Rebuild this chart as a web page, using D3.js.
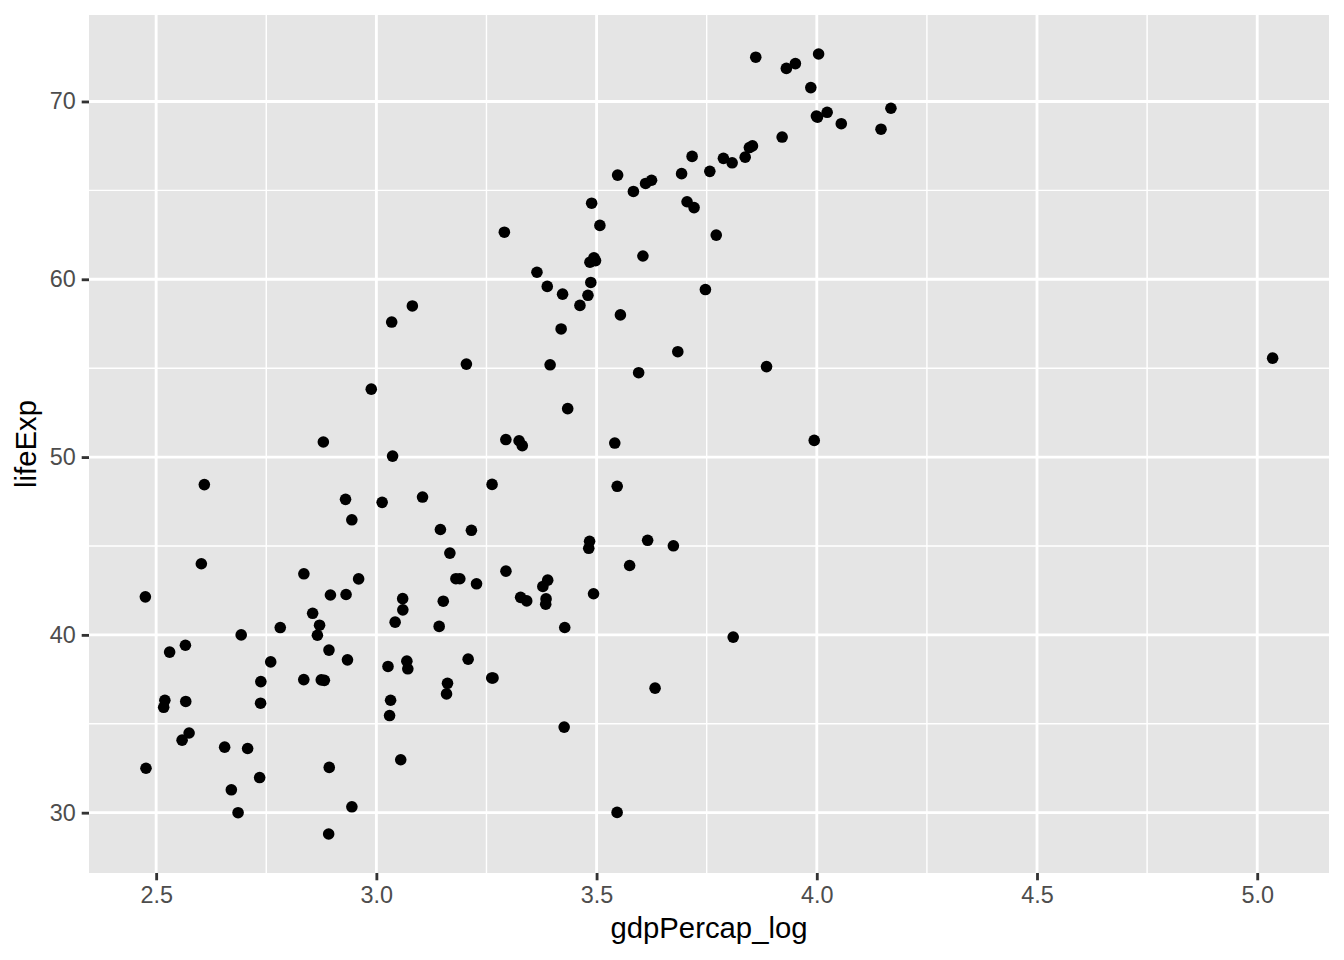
<!DOCTYPE html>
<html>
<head>
<meta charset="utf-8">
<script src="https://cdn.jsdelivr.net/npm/d3@7"></script>
<style>
  html, body { margin: 0; padding: 0; background: #fff; }
  svg { display: block; }
</style>
</head>
<body>
<svg id="chart" width="1344" height="960"></svg>
<script>
const countries = ["Afghanistan","Albania","Algeria","Angola","Argentina","Australia","Austria","Bahrain","Bangladesh","Belgium","Benin","Bolivia","Bosnia and Herzegovina","Botswana","Brazil","Bulgaria","Burkina Faso","Burundi","Cambodia","Cameroon","Canada","Central African Republic","Chad","Chile","China","Colombia","Comoros","Congo, Dem. Rep.","Congo, Rep.","Costa Rica","Cote d'Ivoire","Croatia","Cuba","Czech Republic","Denmark","Djibouti","Dominican Republic","Ecuador","Egypt","El Salvador","Equatorial Guinea","Eritrea","Ethiopia","Finland","France","Gabon","Gambia","Germany","Ghana","Greece","Guatemala","Guinea","Guinea-Bissau","Haiti","Honduras","Hong Kong, China","Hungary","Iceland","India","Indonesia","Iran","Iraq","Ireland","Israel","Italy","Jamaica","Japan","Jordan","Kenya","Korea, Dem. Rep.","Korea, Rep.","Kuwait","Lebanon","Lesotho","Liberia","Libya","Madagascar","Malawi","Malaysia","Mali","Mauritania","Mauritius","Mexico","Mongolia","Montenegro","Morocco","Mozambique","Myanmar","Namibia","Nepal","Netherlands","New Zealand","Nicaragua","Niger","Nigeria","Norway","Oman","Pakistan","Panama","Paraguay","Peru","Philippines","Poland","Portugal","Puerto Rico","Reunion","Romania","Rwanda","Sao Tome and Principe","Saudi Arabia","Senegal","Serbia","Sierra Leone","Singapore","Slovak Republic","Slovenia","Somalia","South Africa","Spain","Sri Lanka","Sudan","Swaziland","Sweden","Switzerland","Syria","Taiwan","Tanzania","Thailand","Togo","Trinidad and Tobago","Tunisia","Turkey","Uganda","United Kingdom","United States","Uruguay","Venezuela","Vietnam","West Bank and Gaza","Yemen, Rep.","Zambia","Zimbabwe"];

const gdpPercapLog = [2.8917,3.2044,3.3890,3.5466,3.7717,4.0017,3.7880,3.9942,2.8352,3.9213,3.0264,3.4277,2.9884,2.9300,3.3240,3.3880,2.7350,2.5306,2.5664,3.0692,4.0556,3.0300,3.0714,3.5955,2.6026,3.3313,3.0426,2.8924,3.3275,3.4195,3.1426,3.4940,3.7471,3.8374,3.9864,3.4264,3.1454,3.5468,3.1519,3.4841,2.5748,2.5171,2.5589,3.8078,3.8469,3.6328,2.6860,3.8539,2.9597,3.5478,3.3853,2.7077,2.4769,3.2649,3.3414,3.4849,3.7213,3.8614,2.7377,2.8749,3.4822,3.6159,3.7169,3.6113,3.6930,3.4622,3.5075,3.1895,2.9312,3.0368,3.0131,5.0350,3.6844,2.4755,2.7601,3.3780,3.1593,2.5672,3.2627,2.6555,2.8710,3.2940,3.5413,2.8957,3.4228,3.2274,2.6707,2.5198,3.3845,2.7371,3.9514,4.0235,3.4931,2.8819,3.0323,4.0041,3.2620,2.8354,3.3945,3.2906,3.5750,3.1048,3.6052,3.4869,3.4888,3.4344,3.4976,2.6931,2.9443,3.8102,3.1615,3.5541,2.9444,3.3646,3.7054,3.6248,3.0553,3.6744,3.5836,3.0348,3.2084,3.0601,3.9309,4.1683,3.2158,3.0817,2.8553,2.8796,2.9344,3.4804,3.1669,3.2942,2.8661,3.9991,4.1458,3.7571,3.8859,2.7818,3.1806,2.8930,3.0597,2.6094];

const lifeExp = [28.801,55.23,43.077,30.015,62.485,69.12,66.8,50.939,37.484,68.0,38.223,40.414,53.82,47.622,50.917,59.6,31.975,39.031,39.417,38.523,68.75,35.463,38.092,54.745,44.0,50.643,40.715,39.143,42.111,57.206,40.477,61.21,59.421,66.87,70.78,34.812,45.928,48.357,41.893,45.262,34.482,35.928,34.078,66.55,67.41,37.003,30.0,67.5,43.149,65.86,42.023,33.609,32.5,37.579,41.912,60.96,64.03,72.49,37.373,37.468,44.869,45.32,66.91,65.39,65.94,58.53,63.03,43.158,42.27,50.056,47.453,55.565,55.928,42.138,38.48,42.723,36.681,36.256,48.463,33.685,40.543,50.986,50.789,42.244,59.164,42.873,31.286,36.319,41.725,36.157,72.13,69.39,42.314,37.444,36.324,72.67,37.578,43.436,55.191,62.649,43.902,47.752,61.31,59.82,64.28,52.724,61.05,40.0,46.471,39.875,37.278,57.996,30.331,60.396,64.36,65.57,32.978,45.009,64.94,57.593,38.635,41.407,71.86,69.62,45.883,58.5,41.215,50.848,38.596,59.1,44.6,43.585,39.978,69.18,68.44,66.071,55.088,40.412,43.16,32.548,42.038,48.451];

const xBreaks = [2.5, 3.0, 3.5, 4.0, 4.5, 5.0];
const xMinor = [2.75, 3.25, 3.75, 4.25, 4.75];
const yBreaks = [30, 40, 50, 60, 70];
const yMinor = [35, 45, 55, 65];
const xTitle = "gdpPercap_log";
const yTitle = "lifeExp";

const data = countries.map((c, i) => ({ country: c, x: gdpPercapLog[i], y: lifeExp[i] }));

const svg = d3.select("#chart");
const panel = { left: 89, right: 1329, top: 15, bottom: 873 };

function expand(ext) { const r = ext[1] - ext[0]; return [ext[0] - 0.05 * r, ext[1] + 0.05 * r]; }
const x = d3.scaleLinear().domain(expand(d3.extent(gdpPercapLog))).range([panel.left, panel.right]);
const y = d3.scaleLinear().domain(expand(d3.extent(lifeExp))).range([panel.bottom, panel.top]);

svg.append("rect").attr("x", panel.left).attr("y", panel.top)
  .attr("width", panel.right - panel.left).attr("height", panel.bottom - panel.top)
  .attr("fill", "#E5E5E5");

const grid = svg.append("g");
grid.selectAll(".xminor").data(xMinor).enter().append("line")
  .attr("x1", d => x(d)).attr("x2", d => x(d)).attr("y1", panel.top).attr("y2", panel.bottom)
  .attr("stroke", "#fff").attr("stroke-width", 1.42);
grid.selectAll(".yminor").data(yMinor).enter().append("line")
  .attr("y1", d => y(d)).attr("y2", d => y(d)).attr("x1", panel.left).attr("x2", panel.right)
  .attr("stroke", "#fff").attr("stroke-width", 1.42);
grid.selectAll(".xmajor").data(xBreaks).enter().append("line")
  .attr("x1", d => x(d)).attr("x2", d => x(d)).attr("y1", panel.top).attr("y2", panel.bottom)
  .attr("stroke", "#fff").attr("stroke-width", 2.84);
grid.selectAll(".ymajor").data(yBreaks).enter().append("line")
  .attr("y1", d => y(d)).attr("y2", d => y(d)).attr("x1", panel.left).attr("x2", panel.right)
  .attr("stroke", "#fff").attr("stroke-width", 2.84);

// points
svg.append("g").selectAll("circle").data(data).enter().append("circle")
  .attr("cx", d => x(d.x)).attr("cy", d => y(d.y)).attr("r", 5.8).attr("fill", "#000");

// axes
const xAxis = d3.axisBottom(x).tickValues(xBreaks).tickFormat(d3.format(".1f")).tickSizeInner(7.3).tickSizeOuter(0).tickPadding(6);
const gx = svg.append("g").attr("transform", `translate(0,${panel.bottom})`).call(xAxis);
gx.select(".domain").remove();
gx.selectAll(".tick line").attr("stroke", "#333333").attr("stroke-width", 2.84);
gx.selectAll(".tick text").attr("fill", "#4D4D4D").attr("font-size", "23.4px")
  .attr("font-family", "'Liberation Sans', Arial, Helvetica, sans-serif");

const yAxis = d3.axisLeft(y).tickValues(yBreaks).tickFormat(d3.format("d")).tickSizeInner(7.3).tickSizeOuter(0).tickPadding(6);
const gy = svg.append("g").attr("transform", `translate(${panel.left},0)`).call(yAxis);
gy.select(".domain").remove();
gy.selectAll(".tick line").attr("stroke", "#333333").attr("stroke-width", 2.84);
gy.selectAll(".tick text").attr("fill", "#4D4D4D").attr("font-size", "23.4px")
  .attr("font-family", "'Liberation Sans', Arial, Helvetica, sans-serif");

svg.append("text").attr("x", (panel.left + panel.right) / 2).attr("y", 938)
  .attr("text-anchor", "middle").attr("font-size", "29.3px").attr("fill", "#000")
  .attr("font-family", "'Liberation Sans', Arial, Helvetica, sans-serif").text(xTitle);

svg.append("text").attr("transform", `translate(36,${(panel.top + panel.bottom) / 2}) rotate(-90)`)
  .attr("text-anchor", "middle").attr("font-size", "29.3px").attr("fill", "#000")
  .attr("font-family", "'Liberation Sans', Arial, Helvetica, sans-serif").text(yTitle);
</script>
</body>
</html>
